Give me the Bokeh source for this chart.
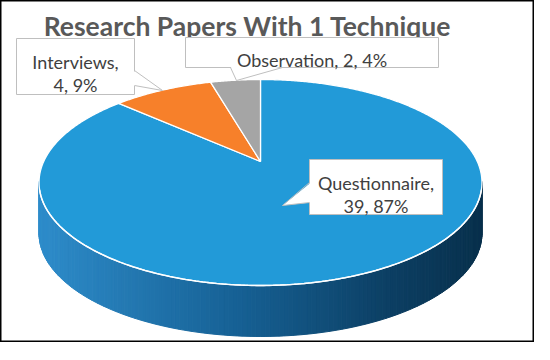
import numpy as np
from bokeh.plotting import figure
from bokeh.models import Range1d
from bokeh.core.properties import value
from bokeh.embed import file_html
from bokeh.resources import INLINE

# ---------------- data ----------------
title_text = "Research Papers With 1 Technique"
categories = ["Questionnaire", "Interviews", "Observation"]
counts = [39, 4, 2]
colors = ["#229AD8", "#F7802A", "#A5A5A5"]

# ---------------- figure ----------------
W, H = 534, 342
p = figure(width=W, height=H, x_range=Range1d(8, 8 + W), y_range=Range1d(8 + H, 8),
           output_backend="svg", toolbar_location=None, min_border=0)
p.axis.visible = False
p.grid.visible = False
p.outline_line_color = "black"
p.outline_line_width = 2
p.background_fill_color = "white"

# perspective pie geometry (screen px)
CX, CY = 268.0, 169.0
A, B, K = 216.8, 98.7, 0.204
D = 51.0


def proj(theta_deg):
    t = np.radians(theta_deg)
    u, v = np.sin(t), np.cos(t)
    w = 1 + K * v
    return CX + A * u / w, CY - B * v / w


total = sum(counts)
fracs = [c / total for c in counts]
bounds = np.concatenate([[0], np.cumsum(fracs)]) * 360.0

# ---------------- side (front wall) ----------------
th1 = np.degrees(np.arccos(-K))
th2 = 360 - th1
N = 160
ths = np.linspace(th1, th2, N + 1)
xs_edge, ys_edge = proj(ths)
xmin, xmax = xs_edge.min(), xs_edge.max()
stops = [(0.0, (46, 140, 202)), (0.45, (22, 96, 148)), (0.8, (12, 62, 98)), (1.0, (8, 48, 76))]


def grad(s):
    for (s0, c0), (s1, c1) in zip(stops[:-1], stops[1:]):
        if s <= s1:
            f = (s - s0) / (s1 - s0)
            return "#%02x%02x%02x" % tuple(int(round(a + (b - a) * f)) for a, b in zip(c0, c1))
    return "#%02x%02x%02x" % stops[-1][1]


side_xs, side_ys, side_cols = [], [], []
for i in range(N):
    xa, ya = xs_edge[i], ys_edge[i]
    xb, yb = xs_edge[i + 1], ys_edge[i + 1]
    side_xs.append([xa, xb, xb, xa])
    side_ys.append([ya - 1, yb - 1, yb + D, ya + D])
    s = ((xa + xb) / 2 - xmin) / (xmax - xmin)
    side_cols.append(grad(s))
p.patches(side_xs, side_ys, fill_color=side_cols, line_color=side_cols, line_width=1)

# ---------------- top slices ----------------
for i, cat in enumerate(categories):
    a0, a1 = bounds[i], bounds[i + 1]
    arc = np.linspace(a0, a1, max(8, int((a1 - a0) * 2)))
    ax_, ay_ = proj(arc)
    px = np.concatenate([[CX], ax_])
    py = np.concatenate([[CY], ay_])
    p.patch(px, py, fill_color=colors[i], line_color="white", line_width=1.3)

# highlight along the front rim
hl = np.linspace(th1 + 4, th2 - 4, 200)
hx, hy = proj(hl)
p.line(hx, hy, line_color="white", line_width=1.5)

# ---------------- title ----------------
p.text(x=[255], y=[33], text=[title_text], text_align="center", text_baseline="alphabetic",
       text_font=value("Lato"), text_font_style="bold", text_font_size="26.5px", text_color="#595959")

# ---------------- data labels ----------------
pct = [int(round(f * 100)) for f in fracs]
label_lines = [
    [f"{categories[0]},", f"{counts[0]}, {pct[0]}%"],
    [f"{categories[1]},", f"{counts[1]}, {pct[1]}%"],
    [f"{categories[2]}, {counts[2]}, {pct[2]}%"],
]
# boxes: left, right, top, bottom ; pointer: base1, base2, tip
boxes = [
    (317, 450, 167, 222, (317, 190), (317, 210), (290, 213)),
    (24, 142, 46, 102, (142, 78), (142, 93), (170, 98)),
    (193, 446, 45, 75, (238, 75), (290, 75), (244, 88)),
]
edge = "#BFBFBF"
for (l, r, t, b, b1, b2, tip), lines in zip(boxes, label_lines):
    p.quad(left=[l], right=[r], top=[t], bottom=[b], fill_color="white", line_color=edge, line_width=1)
    if b1[0] == b2[0]:
        dx = 1.5 if b1[0] == l else -1.5
        qx = [b1[0] + dx, tip[0], b2[0] + dx]
        qy = [b1[1], tip[1], b2[1]]
    else:
        qx = [b1[0], tip[0], b2[0]]
        qy = [b1[1] - 1.5, tip[1], b2[1] - 1.5]
    p.patch(qx, qy, fill_color="white", line_color=None)
    p.line([b1[0], tip[0], b2[0]], [b1[1], tip[1], b2[1]], line_color=edge, line_width=1)
    cx = (l + r) / 2
    n = len(lines)
    if n == 2:
        ys = [t + 23, t + 46]
    else:
        ys = [t + 22]
    p.text(x=[cx] * n, y=ys, text=lines, text_align="center", text_baseline="alphabetic",
           text_font=value("Lato"), text_font_size="18px", text_color="#404040")

open("out.html", "w").write(file_html(p, INLINE))
